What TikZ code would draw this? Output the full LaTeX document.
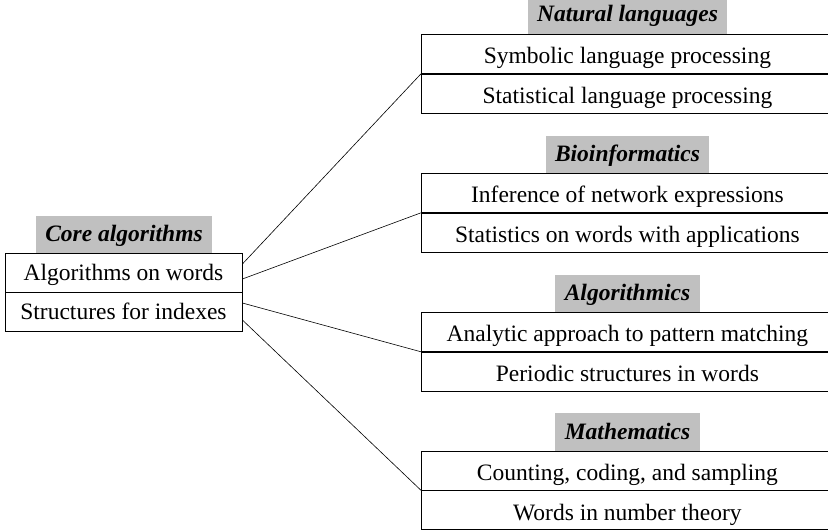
\documentclass[tikz,border=0pt]{standalone}
\usepackage{fontspec}
\setmainfont{Liberation Serif}
\definecolor{labelgray}{RGB}{192,192,192}
\begin{document}
\begin{tikzpicture}[x=1pt,y=-1pt,
  every node/.style={font=\fontsize{23.5}{28}\selectfont},
  grouplabel/.style={fill=labelgray, inner xsep=9.5pt, inner ysep=0pt, minimum height=38pt,
    text height=17pt, text depth=3pt,
    font=\fontsize{23.5}{28}\selectfont\bfseries\itshape, anchor=south},
  leftitem/.style={draw=black, line width=0.8pt, minimum width=237pt, minimum height=39pt, inner sep=0pt,
    text height=17.5pt, text depth=2.5pt},
  rightitem/.style={draw=black, line width=0.8pt, minimum width=412pt, minimum height=39pt, inner sep=0pt,
    text height=20pt, text depth=0pt, anchor=north west},
  link/.style={draw=black, line width=0.6pt}]
\clip (0,0) rectangle (828,530);
\fill[white] (0,0) rectangle (828,530);

% left group
\node[grouplabel] (core) at (124,254) {Core algorithms};
\node[leftitem] (a1) at (123.5,272.5) {Algorithms on words};
\node[leftitem] (a2) at (123.5,311.5) {Structures for indexes};

% right groups
\node[grouplabel] (natl) at (627.5,34) {Natural languages};
\node[rightitem] (n1) at (421,34) {Symbolic language processing};
\node[rightitem] (n2) at (n1.south west) {Statistical language processing};

\node[grouplabel] (biol) at (627.5,174) {Bioinformatics};
\node[rightitem] (b1) at (421,173) {Inference of network expressions};
\node[rightitem] (b2) at (b1.south west) {Statistics on words with applications};

\node[grouplabel] (algl) at (627.5,313) {Algorithmics};
\node[rightitem] (g1) at (421,312) {Analytic approach to pattern matching};
\node[rightitem] (g2) at (g1.south west) {Periodic structures in words};

\node[grouplabel] (matl) at (627.5,451.5) {Mathematics};
\node[rightitem] (m1) at (421,450.5) {Counting, coding, and sampling};
\node[rightitem] (m2) at (m1.south west) {Words in number theory};

% connectors
\draw[link] ([yshift=8.5pt]a1.east) -- (n1.south west);
\draw[link] ([yshift=-6.5pt]a1.east) -- (b1.south west);
\draw[link] ([yshift=8.5pt]a2.east) -- (g1.south west);
\draw[link] ([yshift=-8.5pt]a2.east) -- (m1.south west);
\end{tikzpicture}
\end{document}
